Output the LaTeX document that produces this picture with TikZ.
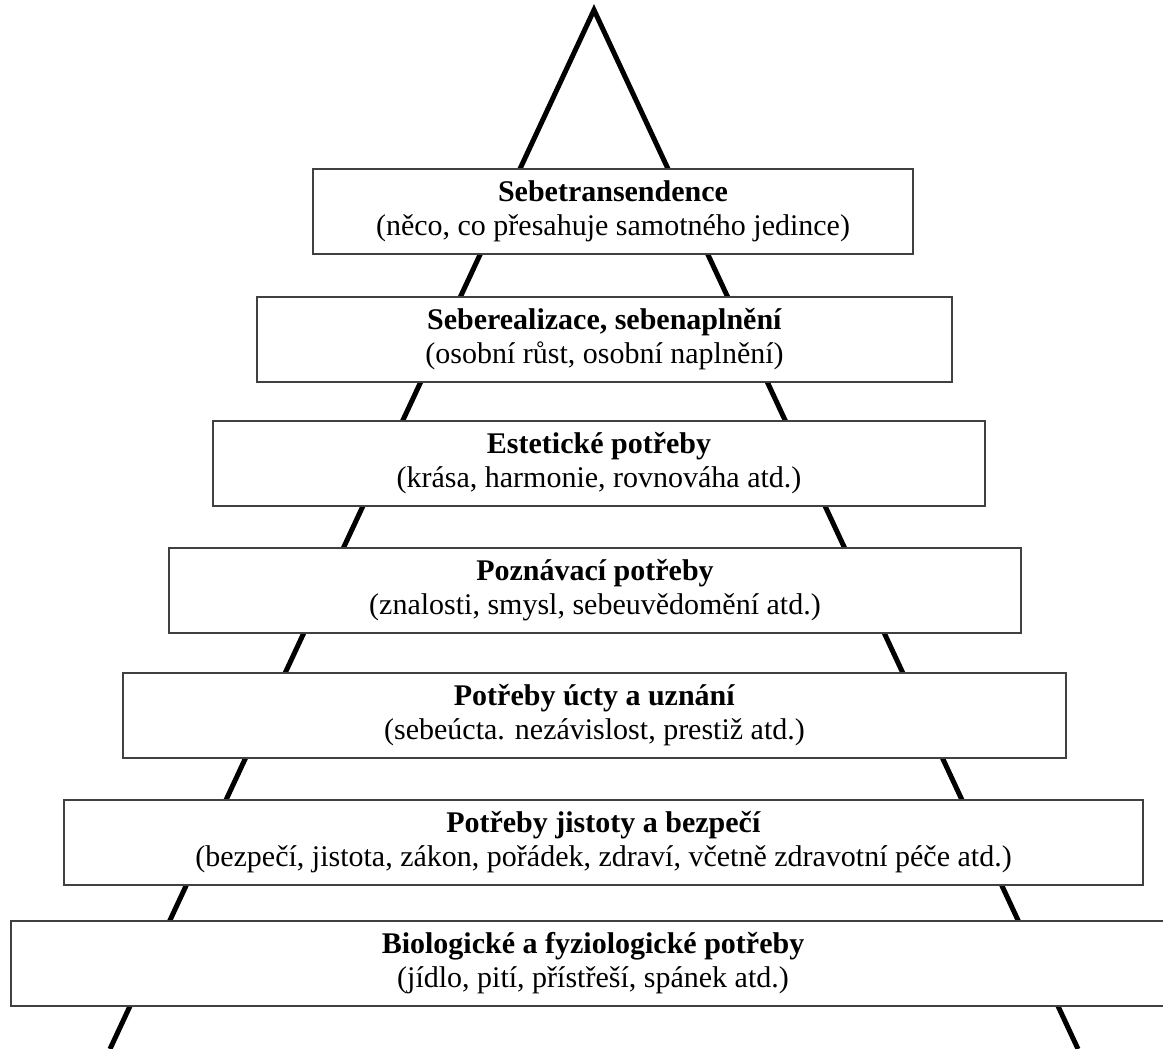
\documentclass[tikz,border=0pt]{standalone}
\usepackage{fontspec}
\setmainfont{Liberation Serif}
\usetikzlibrary{positioning}
\definecolor{boxgray}{RGB}{64,64,64}

\begin{document}
\begin{tikzpicture}[x=1pt,y=-1pt,
    level/.style={draw=boxgray, line width=2pt, fill=white, minimum height=85pt,
      align=center, inner sep=0pt, font=\fontsize{30}{34}\selectfont}]
    \useasboundingbox (0,0) rectangle (1163,1049);
    % pyramid
    \coordinate (apex) at (594,10);
    \coordinate (footL) at (110,1049);
    \coordinate (footR) at (1078,1049);
    \draw [line width=5pt, line join=miter] (footL) -- (apex) -- (footR);
    
    % levels
    \node[level, minimum width=600pt] (transc) at (613,211.5)
      {\textbf{Sebetransendence}\\(něco, co přesahuje samotného jedince)};
    \node[level, minimum width=695pt] (selfreal) at (604.5,339.5)
      {\textbf{Seberealizace, sebenaplnění}\\(osobní růst, osobní naplnění)};
    \node[level, minimum width=772pt] (aesth) at (599,463.5)
      {\textbf{Estetické potřeby}\\(krása, harmonie, rovnováha atd.)};
    \node[level, minimum width=852pt] (cogn) at (595,590.5)
      {\textbf{Poznávací potřeby}\\(znalosti, smysl, sebeuvědomění atd.)};
    \node[level, minimum width=943pt] (esteem) at (594.5,715.5)
      {\textbf{Potřeby úcty a uznání}\\(sebeúcta. nezávislost, prestiž atd.)};
    \node[level, minimum width=1079pt] (safety) at (603.5,842)
      {\textbf{Potřeby jistoty a bezpečí}\\(bezpečí, jistota, zákon, pořádek, zdraví, včetně zdravotní péče atd.)};
    \node[level, minimum width=1164pt] (physio) at (593,963.5)
      {\textbf{Biologické a fyziologické potřeby}\\(jídlo, pití, přístřeší, spánek atd.)};
\end{tikzpicture}
\end{document}
